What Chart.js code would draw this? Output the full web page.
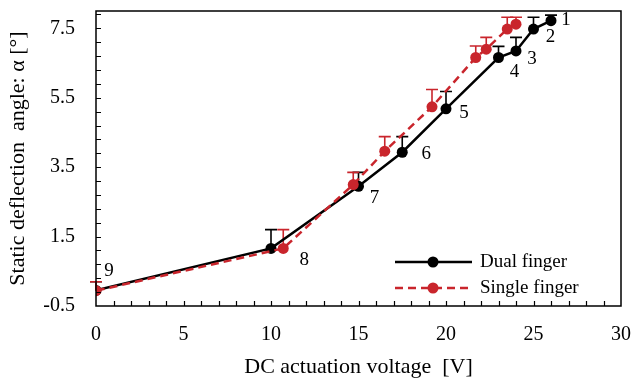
<!DOCTYPE html>
<html>
<head>
<meta charset="utf-8">
<script src="https://cdn.jsdelivr.net/npm/chart.js@4/dist/chart.umd.min.js"></script>
<style>
html,body{margin:0;padding:0;background:#fff;}
#wrap{width:633px;height:380px;position:relative;}
</style>
</head>
<body>
<div id="wrap"><canvas id="c" width="633" height="380"></canvas></div>
<script>
// ---- data ----
const dualVoltage   = [26, 25, 24, 23, 20, 17.5, 15, 10, 0];
const dualAngle     = [7.72, 7.48, 6.85, 6.66, 5.18, 3.93, 2.95, 1.16, -0.05];
const dualError     = [0.16, 0.34, 0.39, 0.32, 0.50, 0.45, 0.40, 0.54, 0.25];
const singleVoltage = [24, 23.5, 22.3, 21.7, 19.2, 16.5, 14.7, 10.7, 0];
const singleAngle   = [7.62, 7.48, 6.90, 6.66, 5.24, 3.96, 3.00, 1.16, -0.06];
const singleError   = [0.20, 0.34, 0.34, 0.33, 0.50, 0.42, 0.35, 0.54, 0.26];
const pointNumbers  = ['1','2','3','4','5','6','7','8','9'];
const xTickLabels   = [0, 5, 10, 15, 20, 25, 30];
const yTickLabels   = [-0.5, 1.5, 3.5, 5.5, 7.5];
const seriesNames   = ['Dual finger', 'Single finger'];

const RED = '#c9252c';
const SERIF = '"Liberation Serif", "Times New Roman", serif';

const toPts = (xs, ys) => xs.map((x, i) => ({x: x, y: ys[i]}));

// error bars (upper only)
const errorBars = {
  id: 'errorBars',
  beforeDatasetsDraw(chart) {
    const ctx = chart.ctx, ys = chart.scales.y;
    const errs = [dualError, singleError];
    const cols = ['#000', RED];
    chart.data.datasets.forEach((ds, di) => {
      const meta = chart.getDatasetMeta(di);
      ctx.save();
      ctx.strokeStyle = cols[di];
      ctx.lineWidth = 1.6;
      meta.data.forEach((pt, i) => {
        const top = ys.getPixelForValue(ds.data[i].y + errs[di][i]);
        ctx.beginPath();
        ctx.moveTo(pt.x, pt.y);
        ctx.lineTo(pt.x, top);
        ctx.moveTo(pt.x - 6, top);
        ctx.lineTo(pt.x + 6, top);
        ctx.stroke();
      });
      ctx.restore();
    });
  }
};

// frame + inward minor ticks
const frameTicks = {
  id: 'frameTicks',
  afterDraw(chart) {
    const ctx = chart.ctx, a = chart.chartArea;
    const xs = chart.scales.x, ys = chart.scales.y;
    ctx.save();
    ctx.strokeStyle = '#000';
    ctx.lineWidth = 1.5;
    ctx.beginPath();
    ctx.rect(a.left, a.top, a.right - a.left, a.bottom - a.top);
    ctx.stroke();
    ctx.lineWidth = 1.2;
    ctx.beginPath();
    for (let v = xs.min + 1; v < xs.max; v += 1) {
      const px = Math.round(xs.getPixelForValue(v)) + 0.5;
      ctx.moveTo(px, a.bottom);
      ctx.lineTo(px, a.bottom - 5);
    }
    for (let k = 1; ; k++) {
      const v = ys.min + k * 0.4;
      if (v > ys.max - 0.05) break;
      const py = Math.round(ys.getPixelForValue(v)) + 0.5;
      ctx.moveTo(a.left, py);
      ctx.lineTo(a.left + 5, py);
    }
    ctx.stroke();
    ctx.restore();
  }
};

// point numbers next to markers
const numberLabels = {
  id: 'numberLabels',
  afterDatasetsDraw(chart) {
    const ctx = chart.ctx;
    const metaD = chart.getDatasetMeta(0);
    const metaS = chart.getDatasetMeta(1);
    const offs = [[15,-1],[17,8],[16,8],[16,15],[18,4],[24,2],[16,12],[21,12],[13,-19]];
    ctx.save();
    ctx.fillStyle = '#000';
    ctx.font = '19px ' + SERIF;
    ctx.textAlign = 'center';
    ctx.textBaseline = 'middle';
    pointNumbers.forEach((t, i) => {
      const p = (i === 7) ? metaS.data[i] : metaD.data[i];
      ctx.fillText(t, p.x + offs[i][0], p.y + offs[i][1]);
    });
    ctx.restore();
  }
};

// legend inside plot
const innerLegend = {
  id: 'innerLegend',
  afterDraw(chart) {
    const ctx = chart.ctx;
    const rows = [
      {y: 262, color: '#000', dash: []},
      {y: 288, color: RED, dash: [8, 5]}
    ];
    ctx.save();
    rows.forEach((r, i) => {
      ctx.strokeStyle = r.color;
      ctx.lineWidth = 2.5;
      ctx.setLineDash(r.dash);
      ctx.beginPath();
      ctx.moveTo(395, r.y);
      ctx.lineTo(472, r.y);
      ctx.stroke();
      ctx.setLineDash([]);
      ctx.fillStyle = r.color;
      ctx.beginPath();
      ctx.arc(433, r.y, 5.5, 0, Math.PI * 2);
      ctx.fill();
      ctx.fillStyle = '#000';
      ctx.font = '19px ' + SERIF;
      ctx.textBaseline = 'middle';
      ctx.textAlign = 'left';
      ctx.fillText(seriesNames[i], 480, r.y);
    });
    ctx.restore();
  }
};

new Chart(document.getElementById('c'), {
  type: 'line',
  data: {
    datasets: [
      {
        label: seriesNames[0],
        data: toPts(dualVoltage, dualAngle),
        borderColor: '#000',
        backgroundColor: '#000',
        borderWidth: 2.5,
        pointRadius: 5.5,
        pointBorderWidth: 0,
        pointHoverRadius: 5.5,
        tension: 0,
        order: 2
      },
      {
        label: seriesNames[1],
        data: toPts(singleVoltage, singleAngle),
        borderColor: RED,
        backgroundColor: RED,
        borderWidth: 2.5,
        borderDash: [8, 5],
        pointRadius: 5.5,
        pointBorderWidth: 0,
        pointHoverRadius: 5.5,
        tension: 0,
        order: 1
      }
    ]
  },
  options: {
    responsive: false,
    animation: false,
    events: [],
    layout: {padding: {top: 11, right: 12, left: 0, bottom: 0}},
    plugins: {legend: {display: false}, tooltip: {enabled: false}},
    scales: {
      x: {
        type: 'linear',
        min: 0, max: 30,
        afterBuildTicks(s) { s.ticks = xTickLabels.map(v => ({value: v})); },
        afterFit(s) { s.height = 74; s.paddingLeft = 0; s.paddingRight = 0; },
        grid: {display: false, drawTicks: false},
        border: {display: false},
        ticks: {color: '#000', font: {family: SERIF, size: 20}, padding: 17, maxRotation: 0},
        title: {display: true, text: 'DC actuation voltage  [V]', color: '#000',
                font: {family: SERIF, size: 22}, padding: {top: 4, bottom: 0}}
      },
      y: {
        type: 'linear',
        min: -0.5, max: 8.0,
        afterBuildTicks(s) { s.ticks = yTickLabels.map(v => ({value: v})); },
        afterFit(s) { s.width = 96; s.paddingTop = 0; s.paddingBottom = 0; },
        grid: {display: false, drawTicks: false},
        border: {display: false},
        ticks: {color: '#000', font: {family: SERIF, size: 20}, padding: 21,
                callback: v => v.toFixed(1)},
        title: {display: true, text: 'Static deflection  angle: α [°]', color: '#000',
                font: {family: SERIF, size: 22}, padding: {top: 5, bottom: 0}}
      }
    }
  },
  plugins: [errorBars, frameTicks, numberLabels, innerLegend]
});
</script>
</body>
</html>
